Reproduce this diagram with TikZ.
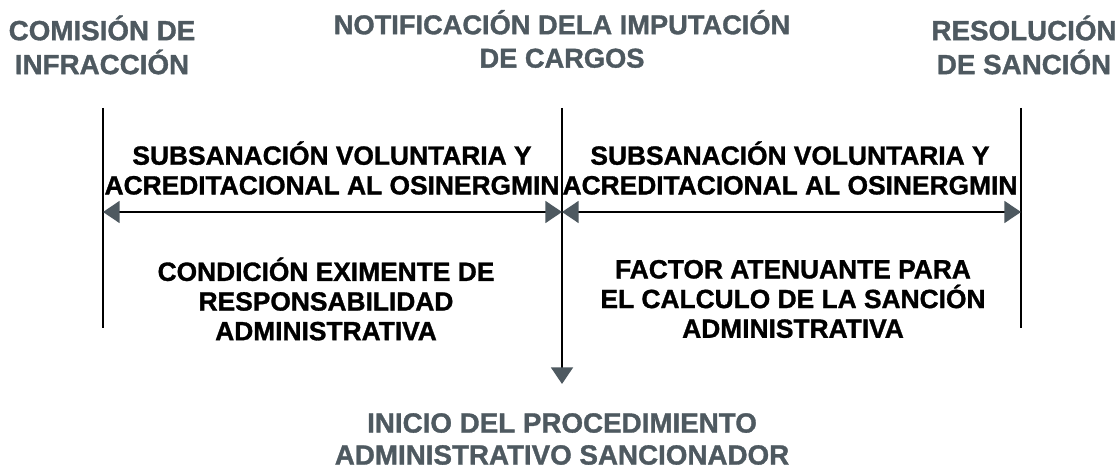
\documentclass[tikz,border=0pt]{standalone}
\usepackage{fontspec}
\setmainfont{Liberation Sans}[BoldFeatures={FakeBold=1.2}]
\usetikzlibrary{arrows.meta,positioning}
\definecolor{slate}{HTML}{4E5960}

\begin{document}
\begin{tikzpicture}[x=0.02cm, y=-0.02cm,
  hdr/.style={font=\bfseries\fontsize{15.8}{19.3}\selectfont, text=slate, align=center, inner sep=0pt},
  body/.style={font=\bfseries\fontsize{15}{16.9}\selectfont, text=black, align=center, inner sep=0pt},
  tick/.style={line width=1.2pt, draw=black},
  arr/.style={line width=1.2pt, draw=black, {Triangle[length=9.5pt, width=12.5pt, color=slate]}-{Triangle[length=9.5pt, width=12.5pt, color=slate]}},
  down/.style={line width=1.2pt, draw=black, -{Triangle[length=9.5pt, width=12.5pt, color=slate]}}]
\useasboundingbox (0,0) rectangle (1115,472);

% time marks
\coordinate (lefttop) at (103,108);
\coordinate (leftbot) at (103,328);
\coordinate (midtop) at (562,108);
\coordinate (midbot) at (562,384);
\coordinate (righttop) at (1021,108);
\coordinate (rightbot) at (1021,328);
\coordinate (leftmid) at (103,212);
\coordinate (midmid) at (562,212);
\coordinate (rightmid) at (1021,212);

\draw[tick] (lefttop) -- (leftbot);
\draw[tick] (righttop) -- (rightbot);
\draw[down] (midtop) -- (midbot);
\draw[arr] (leftmid) -- (midmid);
\draw[arr] (midmid) -- (rightmid);

% headings
\node[hdr] (comision) at (102,45) {COMISIÓN DE\\INFRACCIÓN};
\node[hdr, font=\bfseries\fontsize{15.5}{19}\selectfont] (notif) at (562,39) {NOTIFICACIÓN DELA IMPUTACIÓN\\DE CARGOS};
\node[hdr] (resol) at (1024,45) {RESOLUCIÓN\\DE SANCIÓN};
\node[hdr, font=\bfseries\fontsize{15.8}{18.2}\selectfont] (inicio) at (562,439) {INICIO DEL PROCEDIMIENTO\\ADMINISTRATIVO SANCIONADOR};

% periods
\node[body] (subsleft) at (332,168) {SUBSANACIÓN VOLUNTARIA Y\\ACREDITACIONAL AL OSINERGMIN};
\node[body] (subsright) at (790,168) {SUBSANACIÓN VOLUNTARIA Y\\ACREDITACIONAL AL OSINERGMIN};
\node[body] (eximente) at (326,299) {CONDICIÓN EXIMENTE DE\\RESPONSABILIDAD\\ADMINISTRATIVA};
\node[body] (atenuante) at (793,299) {FACTOR ATENUANTE PARA\\EL CALCULO DE LA SANCIÓN\\ADMINISTRATIVA};
\end{tikzpicture}
\end{document}
